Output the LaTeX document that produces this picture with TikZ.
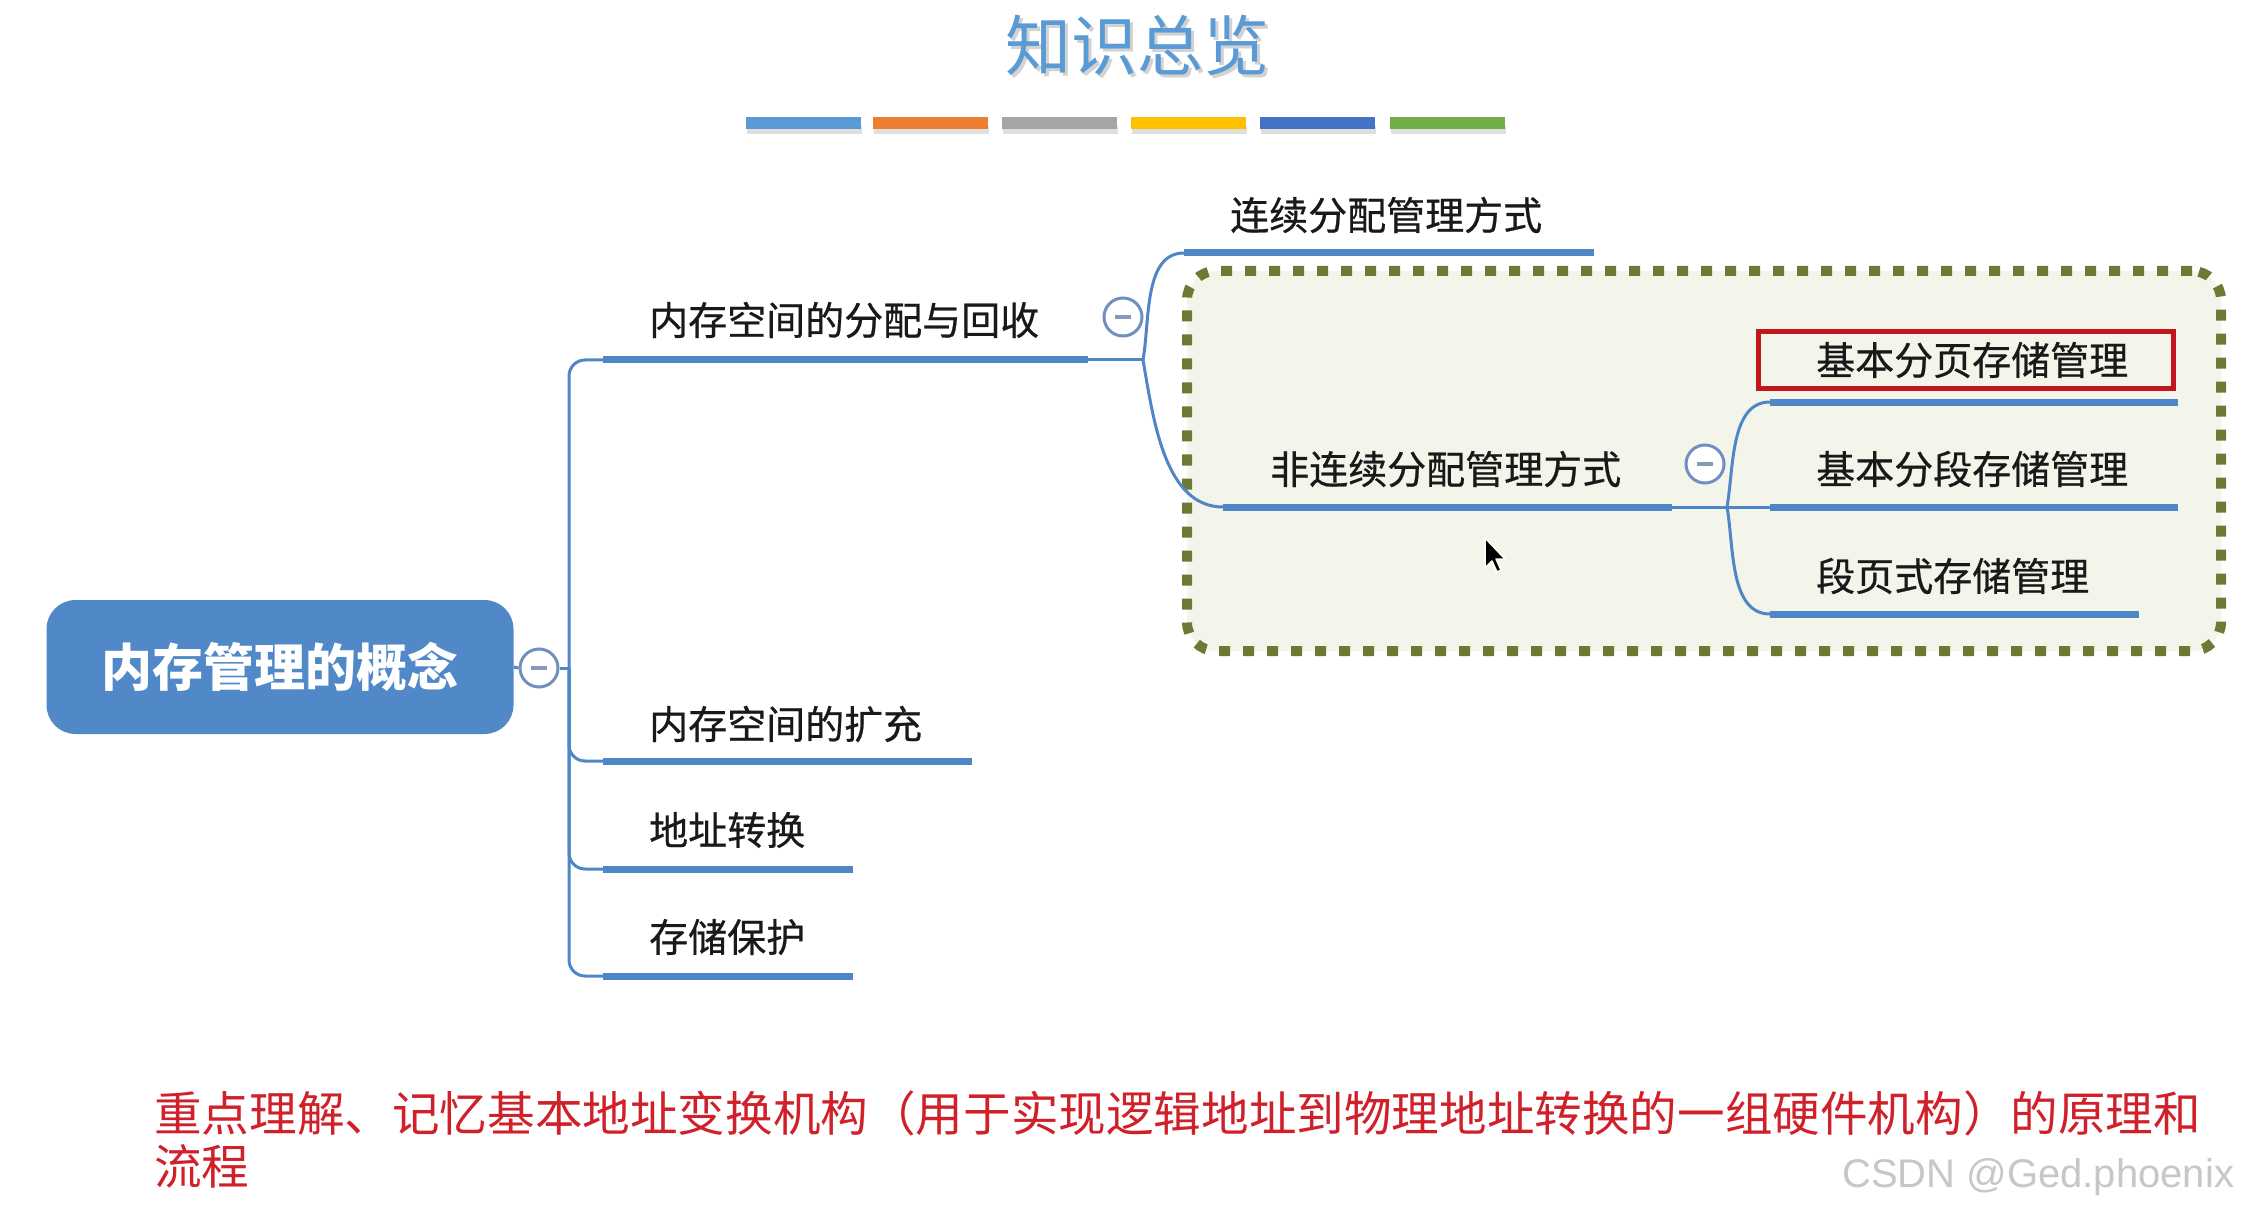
\documentclass[tikz,border=0pt]{standalone}
\usepackage{fontspec}
\setmainfont{Liberation Sans}
\newfontfamily\cjk{Noto Sans CJK SC}
\newfontfamily\cjkfb[FakeBold=0.6]{Noto Sans CJK SC}
\definecolor{ublue}{HTML}{4F86C6}
\definecolor{rootblue}{HTML}{5088C8}
\definecolor{cring}{HTML}{7090C0}
\definecolor{cminus}{HTML}{8898B8}
\definecolor{olive}{HTML}{6B7B34}
\definecolor{boxbg}{HTML}{F3F5EA}
\definecolor{hired}{HTML}{C0161C}
\definecolor{notered}{HTML}{D0202A}
\definecolor{titleblue}{HTML}{5B9BD5}
\definecolor{barA}{HTML}{5B9BD5}
\definecolor{barB}{HTML}{ED7D31}
\definecolor{barC}{HTML}{A5A5A5}
\definecolor{barD}{HTML}{FFC000}
\definecolor{barE}{HTML}{4472C4}
\definecolor{barF}{HTML}{70AD47}
\tikzset{
  uline/.style={draw=ublue, line width=7pt},
  conn/.style={draw=ublue, line width=3pt},
  topic/.style={font=\cjkfb\fontsize{39pt}{45pt}\selectfont, text=black!90, inner sep=0pt, anchor=west},
  collapse/.style={circle, draw=cring, fill=white, line width=3pt, minimum size=38pt, inner sep=0pt,
    path picture={\draw[cminus, line width=3.5pt] ([xshift=-8pt]path picture bounding box.center) -- ([xshift=8pt]path picture bounding box.center);}},
  colorbar/.style={inner sep=0pt, minimum width=115pt, minimum height=12pt},
}
\begin{document}
\begin{tikzpicture}[x=1pt, y=-1pt]
\useasboundingbox (0,0) rectangle (2251,1214);
\fill[white] (0,0) rectangle (2251,1214);

% title
\node[font=\cjk\fontsize{66pt}{70pt}\selectfont, text=gray!35] (titleshadow) at (1140,48) {知识总览};
\node[font=\cjk\fontsize{66pt}{70pt}\selectfont, text=titleblue] (title) at (1137,45) {知识总览};

% colour bars
\foreach \cx/\col [count=\i] in {803/barA, 930/barB, 1059/barC, 1188/barD, 1317/barE, 1447/barF}{
  \fill[gray!25] (\cx-56,126) rectangle (\cx+59,134);
  \node[colorbar, fill=\col] (bar\i) at (\cx,123) {};
}

% dotted group box
\node[draw=olive, fill=boxbg, line width=10pt, dash pattern=on 11pt off 13pt, rounded corners=29pt,
      minimum width=1034pt, minimum height=380pt, inner sep=0pt] (grp) at (1704,461) {};

% root
\node[fill=rootblue, rounded corners=29pt, minimum width=467pt, minimum height=134pt,
      text=white, font=\cjk\bfseries\fontsize{51pt}{55pt}\selectfont] (root) at (280,667) {内存管理的概念};
\node[collapse] (c0) at (539,668) {};
\draw[conn] (root.east) -- (c0.west);
\coordinate (trunk) at (569,668);
\draw[conn] (c0.east) -- (trunk);

% level 1
\coordinate (u1a) at (603,360); \coordinate (u1b) at (1088,360);
\coordinate (u4a) at (603,761); \coordinate (u4b) at (972,761);
\coordinate (u5a) at (603,869); \coordinate (u5b) at (853,869);
\coordinate (u6a) at (603,976); \coordinate (u6b) at (853,976);
\draw[uline] (u1a) -- (u1b);
\draw[uline] (u4a) -- (u4b);
\draw[uline] (u5a) -- (u5b);
\draw[uline] (u6a) -- (u6b);
\draw[conn, rounded corners=16pt] (trunk) |- (u1a);
\draw[conn, rounded corners=16pt] (trunk) |- (u4a);
\draw[conn, rounded corners=16pt] (trunk) |- (u5a);
\draw[conn, rounded corners=16pt] (trunk) |- (u6a);
\node[topic] (t1) at (649,320) {内存空间的分配与回收};
\node[topic] (t4) at (649,724) {内存空间的扩充};
\node[topic] (t5) at (649,830) {地址转换};
\node[topic] (t6) at (649,937) {存储保护};
\node[collapse] (c1) at (1123,317) {};

% level 2
\coordinate (j1) at (1143,360);
\coordinate (u2a) at (1184,253); \coordinate (u2b) at (1594,253);
\coordinate (u3a) at (1223,507); \coordinate (u3b) at (1672,507);
\draw[uline] (u2a) -- (u2b);
\draw[uline] (u3a) -- (u3b);
\draw[conn] (u1b) -- (j1);
\draw[conn] (j1) to[out=80, in=180, looseness=0.9] (u2a);
\draw[conn] (j1) to[out=-80, in=180, looseness=0.9] (u3a);
\node[topic] (t2) at (1230,215) {连续分配管理方式};
\node[topic] (t3) at (1270,469) {非连续分配管理方式};
\node[collapse] (c2) at (1705,464) {};

% level 3
\coordinate (j2) at (1727,507);
\coordinate (u7a) at (1770,402); \coordinate (u7b) at (2178,402);
\coordinate (u8a) at (1770,507); \coordinate (u8b) at (2178,507);
\coordinate (u9a) at (1770,614); \coordinate (u9b) at (2139,614);
\draw[uline] (u7a) -- (u7b);
\draw[uline] (u8a) -- (u8b);
\draw[uline] (u9a) -- (u9b);
\draw[conn] (u3b) -- (j2);
\draw[conn] (j2) -- (u8a);
\draw[conn] (j2) to[out=80, in=180, looseness=0.9] (u7a);
\draw[conn] (j2) to[out=-80, in=180, looseness=0.9] (u9a);
\node[draw=hired, line width=5pt, minimum width=415pt, minimum height=56pt, inner sep=0pt] (hl) at (1966,360) {};
\node[topic] (t7) at (1816,360) {基本分页存储管理};
\node[topic] (t8) at (1816,469) {基本分段存储管理};
\node[topic] (t9) at (1816,576) {段页式存储管理};

% mouse cursor
\filldraw[fill=black, draw=white, line width=1.5pt, line join=round]
  (1485,538) -- (1485,568) -- (1492,561) -- (1497,572) -- (1501,570) -- (1496,559) -- (1505,559) -- cycle;

% note
\node[anchor=base west, align=left, inner sep=0pt, text=notered,
      font=\cjk\fontsize{47.6pt}{53pt}\selectfont] (note) at (154,1184)
  {重点理解、记忆基本地址变换机构（用于实现逻辑地址到物理地址转换的一组硬件机构）的原理和\\流程};

% watermark
\node[anchor=west, inner sep=0pt, text=black!22, font=\fontsize{40pt}{44pt}\selectfont] (wm) at (1842,1177) {CSDN @Ged.phoenix};
\end{tikzpicture}
\end{document}
